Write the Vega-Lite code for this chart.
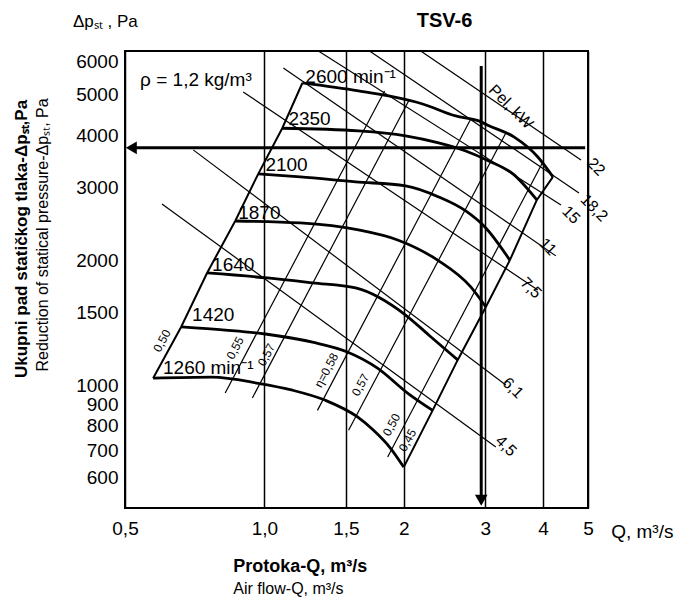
{
  "$schema": "https://vega.github.io/schema/vega-lite/v6.json",
  "width": 463,
  "height": 457,
  "autosize": {"type": "none"},
  "padding": {"left": 125, "top": 51, "right": 88, "bottom": 90},
  "background": "white",
  "config": {
    "view": {"stroke": "black", "strokeWidth": 2},
    "font": "Liberation Sans",
    "axis": {"labelFont": "Liberation Sans", "labelColor": "black", "labelFontSize": 19, "ticks": false, "domain": false, "labelOverlap": false, "labelFlush": false},
    "text": {"font": "Liberation Sans", "color": "black"}
  },
  "encoding": {
    "x": {"field": "q", "type": "quantitative",
      "scale": {"type": "log", "domain": [0.5, 5], "nice": false},
      "axis": {"values": [0.5, 1, 1.5, 2, 3, 4, 5], "labelExpr": "datum.value < 2 ? replace(format(datum.value, '.1f'), '.', ',') : format(datum.value, 'd')", "grid": true, "gridColor": "black", "gridWidth": 1.5, "gridOpacity": 1, "labelPadding": 11, "title": null}},
    "y": {"field": "p", "type": "quantitative",
      "scale": {"type": "log", "domain": [508, 6375], "nice": false},
      "axis": {"values": [600, 700, 800, 900, 1000, 1500, 2000, 3000, 4000, 5000, 6000], "format": "d", "grid": false, "labelPadding": 7, "title": null}}
  },
  "layer": [
    {
      "data": {"values": [{"p": 5189}, {"p": 4157}, {"p": 2922}, {"p": 1897}, {"p": 1390}, {"p": 894}, {"p": 805}, {"p": 708}, {"p": 600}]},
      "mark": {"type": "rule", "color": "black"},
      "encoding": {"x": {"datum": 0.5}, "x2": {"datum": 5}, "strokeWidth": {"condition": {"test": "datum.p == 4157", "value": 2.8}, "value": 1.6}}
    },
    {
      "data": {"values": [
        {"id": "h", "q": 0.52, "p": 3730}, {"id": "h", "q": 4.93, "p": 3730},
        {"id": "v", "q": 2.94, "p": 5868}, {"id": "v", "q": 2.94, "p": 545}
      ]},
      "mark": {"type": "line", "color": "black", "strokeWidth": 3},
      "encoding": {"detail": {"field": "id"}}
    },
    {
      "data": {"values": [{"q": 0.516, "p": 3730}]},
      "mark": {"type": "point", "shape": "triangle-left", "filled": true, "color": "black", "size": 160, "opacity": 1}
    },
    {
      "data": {"values": [{"q": 2.94, "p": 530}]},
      "mark": {"type": "point", "shape": "triangle-down", "filled": true, "color": "black", "size": 160, "opacity": 1}
    },
    {
      "data": {"values": [
        {"side": "left", "q": 0.575, "p": 1042}, {"side": "left", "q": 0.661, "p": 1384}, {"side": "left", "q": 0.752, "p": 1866}, {"side": "left", "q": 0.865, "p": 2488}, {"side": "left", "q": 0.970, "p": 3229}, {"side": "left", "q": 1.093, "p": 4157}, {"side": "left", "q": 1.208, "p": 5341},
        {"side": "right", "q": 2.0, "p": 637}, {"side": "right", "q": 2.309, "p": 872}, {"side": "right", "q": 2.616, "p": 1153}, {"side": "right", "q": 3.008, "p": 1546}, {"side": "right", "q": 3.39, "p": 2003}, {"side": "right", "q": 3.877, "p": 2795}, {"side": "right", "q": 4.2, "p": 3176}
      ]},
      "mark": {"type": "line", "color": "black", "strokeWidth": 2},
      "encoding": {"detail": {"field": "side"}}
    },
    {
      "data": {"values": [
        {"id": "e1", "q": 0.823, "p": 960}, {"id": "e1", "q": 1.818, "p": 5111},
        {"id": "e2", "q": 0.942, "p": 934}, {"id": "e2", "q": 2.049, "p": 4835},
        {"id": "e3", "q": 1.302, "p": 872}, {"id": "e3", "q": 2.791, "p": 4377},
        {"id": "e4", "q": 1.520, "p": 781}, {"id": "e4", "q": 3.323, "p": 4051},
        {"id": "e5", "q": 1.846, "p": 674}, {"id": "e5", "q": 3.995, "p": 3450}
      ]},
      "mark": {"type": "line", "color": "black", "strokeWidth": 1.2},
      "encoding": {"detail": {"field": "id"}}
    },
    {
      "data": {"values": [
        {"id": "22", "q": 2.176, "p": 6375}, {"id": "22", "q": 4.828, "p": 3489},
        {"id": "18,2", "q": 1.687, "p": 6375}, {"id": "18,2", "q": 4.78, "p": 2906},
        {"id": "15", "q": 1.308, "p": 6375}, {"id": "15", "q": 4.371, "p": 2719},
        {"id": "11", "q": 1.099, "p": 5804}, {"id": "11", "q": 4.262, "p": 2051},
        {"id": "7,5", "q": 0.900, "p": 5082}, {"id": "7,5", "q": 3.896, "p": 1698},
        {"id": "6,1", "q": 0.702, "p": 3688}, {"id": "6,1", "q": 3.323, "p": 1004},
        {"id": "4,5", "q": 0.601, "p": 2734}, {"id": "4,5", "q": 3.161, "p": 712}
      ]},
      "mark": {"type": "line", "color": "black", "strokeWidth": 1.2},
      "encoding": {"detail": {"field": "id"}}
    },
    {
      "data": {"values": [
        {"n": "2600", "q": 1.208, "p": 5341}, {"n": "2600", "q": 1.597, "p": 5111}, {"n": "2600", "q": 1.855, "p": 4971}, {"n": "2600", "q": 2.197, "p": 4755}, {"n": "2600", "q": 2.589, "p": 4450}, {"n": "2600", "q": 2.904, "p": 4329}, {"n": "2600", "q": 3.038, "p": 4227}, {"n": "2600", "q": 3.459, "p": 3962}, {"n": "2600", "q": 3.896, "p": 3545}, {"n": "2600", "q": 4.2, "p": 3176},
        {"n": "2350", "q": 1.093, "p": 4157}, {"n": "2350", "q": 1.597, "p": 4096}, {"n": "2350", "q": 2.018, "p": 3985}, {"n": "2350", "q": 2.379, "p": 3833}, {"n": "2350", "q": 2.722, "p": 3666}, {"n": "2350", "q": 3.053, "p": 3469}, {"n": "2350", "q": 3.442, "p": 3229}, {"n": "2350", "q": 3.877, "p": 2795},
        {"n": "2100", "q": 0.970, "p": 3229}, {"n": "2100", "q": 1.196, "p": 3176}, {"n": "2100", "q": 1.574, "p": 3089}, {"n": "2100", "q": 2.018, "p": 3021}, {"n": "2100", "q": 2.379, "p": 2842}, {"n": "2100", "q": 2.722, "p": 2630}, {"n": "2100", "q": 3.008, "p": 2394}, {"n": "2100", "q": 3.39, "p": 2003},
        {"n": "1870", "q": 0.865, "p": 2488}, {"n": "1870", "q": 1.196, "p": 2461}, {"n": "1870", "q": 1.597, "p": 2368}, {"n": "1870", "q": 1.940, "p": 2240}, {"n": "1870", "q": 2.367, "p": 2003}, {"n": "1870", "q": 2.791, "p": 1727}, {"n": "1870", "q": 3.008, "p": 1546},
        {"n": "1640", "q": 0.752, "p": 1866}, {"n": "1640", "q": 1.015, "p": 1815}, {"n": "1640", "q": 1.270, "p": 1766}, {"n": "1640", "q": 1.574, "p": 1717}, {"n": "1640", "q": 2.018, "p": 1478}, {"n": "1640", "q": 2.264, "p": 1324}, {"n": "1640", "q": 2.616, "p": 1153},
        {"n": "1420", "q": 0.661, "p": 1384}, {"n": "1420", "q": 0.823, "p": 1360}, {"n": "1420", "q": 1.005, "p": 1331}, {"n": "1420", "q": 1.270, "p": 1272}, {"n": "1420", "q": 1.511, "p": 1205}, {"n": "1420", "q": 1.755, "p": 1102}, {"n": "1420", "q": 2.038, "p": 960}, {"n": "1420", "q": 2.309, "p": 872},
        {"n": "1260", "q": 0.575, "p": 1042}, {"n": "1260", "q": 0.771, "p": 1048}, {"n": "1260", "q": 0.970, "p": 1013}, {"n": "1260", "q": 1.150, "p": 975}, {"n": "1260", "q": 1.355, "p": 922}, {"n": "1260", "q": 1.589, "p": 841}, {"n": "1260", "q": 1.721, "p": 781}, {"n": "1260", "q": 1.873, "p": 707}, {"n": "1260", "q": 2.0, "p": 637}
      ]},
      "mark": {"type": "line", "color": "black", "strokeWidth": 2.8, "interpolate": "monotone"},
      "encoding": {"detail": {"field": "n"}}
    },
    {
      "data": {"values": [
        {"t": "2600 min⁻¹", "q": 1.226, "p": 5341},
        {"t": "2350", "q": 1.127, "p": 4227},
        {"t": "2100", "q": 1.005, "p": 3282},
        {"t": "1870", "q": 0.878, "p": 2517},
        {"t": "1640", "q": 0.771, "p": 1887},
        {"t": "1420", "q": 0.698, "p": 1430},
        {"t": "1260 min⁻¹", "q": 0.604, "p": 1067}
      ]},
      "mark": {"type": "text", "align": "left", "baseline": "alphabetic", "fontSize": 19},
      "encoding": {"text": {"field": "t"}}
    },
    {
      "data": {"values": [
        {"t": "22", "q": 5.203, "p": 3356},
        {"t": "18,2", "q": 5.15, "p": 2674},
        {"t": "15", "q": 4.594, "p": 2573},
        {"t": "11", "q": 4.096, "p": 2155},
        {"t": "7,5", "q": 3.764, "p": 1717},
        {"t": "6,1", "q": 3.442, "p": 987},
        {"t": "4,5", "q": 3.323, "p": 716},
        {"t": "Pel, kW", "q": 3.407, "p": 4678}
      ]},
      "mark": {"type": "text", "align": "center", "baseline": "middle", "fontSize": 16, "angle": 45},
      "encoding": {"text": {"field": "t"}}
    },
    {
      "data": {"values": [
        {"t": "0,50", "q": 0.601, "p": 1281},
        {"t": "0,55", "q": 0.865, "p": 1232},
        {"t": "0,57", "q": 1.010, "p": 1186},
        {"t": "η=0,58", "q": 1.362, "p": 1089},
        {"t": "0,57", "q": 1.613, "p": 1004},
        {"t": "0,50", "q": 1.882, "p": 805},
        {"t": "0,45", "q": 2.038, "p": 739}
      ]},
      "mark": {"type": "text", "align": "center", "baseline": "middle", "fontSize": 12, "angle": 298},
      "encoding": {"text": {"field": "t"}}
    },
    {
      "data": {"values": [
        {"t": "ρ = 1,2 kg/m³", "q": 0.539, "p": 5254},
        {"t": "Q, m³/s", "q": 5.61, "p": 430}
      ]},
      "mark": {"type": "text", "align": "left", "baseline": "alphabetic", "fontSize": 19},
      "encoding": {"text": {"field": "t"}}
    },
    {
      "data": {"values": [{"t": "Δpₛₜ , Pa", "q": 0.386, "p": 7282}]},
      "mark": {"type": "text", "align": "left", "baseline": "alphabetic", "fontSize": 17},
      "encoding": {"text": {"field": "t"}}
    },
    {
      "data": {"values": [{"t": "TSV-6", "q": 2.45, "p": 7282}]},
      "mark": {"type": "text", "align": "center", "baseline": "alphabetic", "fontSize": 20, "fontWeight": "bold"},
      "encoding": {"text": {"field": "t"}}
    },
    {
      "data": {"values": [{"t": "Protoka-Q, m³/s", "q": 0.857, "p": 357}]},
      "mark": {"type": "text", "align": "left", "baseline": "alphabetic", "fontSize": 18, "fontWeight": "bold"},
      "encoding": {"text": {"field": "t"}}
    },
    {
      "data": {"values": [{"t": "Air flow-Q, m³/s", "q": 0.857, "p": 316}]},
      "mark": {"type": "text", "align": "left", "baseline": "alphabetic", "fontSize": 16},
      "encoding": {"text": {"field": "t"}}
    },
    {
      "data": {"values": [{"t": "Ukupni pad statičkog tlaka-Δpₛₜ,Pa", "q": 0.299, "p": 2252}]},
      "mark": {"type": "text", "align": "center", "baseline": "middle", "fontSize": 17, "fontWeight": "bold", "angle": 270},
      "encoding": {"text": {"field": "t"}}
    },
    {
      "data": {"values": [{"t": "Reduction of statical pressure-Δpₛₜ, Pa", "q": 0.332, "p": 2303}]},
      "mark": {"type": "text", "align": "center", "baseline": "middle", "fontSize": 16, "angle": 270},
      "encoding": {"text": {"field": "t"}}
    }
  ]
}
